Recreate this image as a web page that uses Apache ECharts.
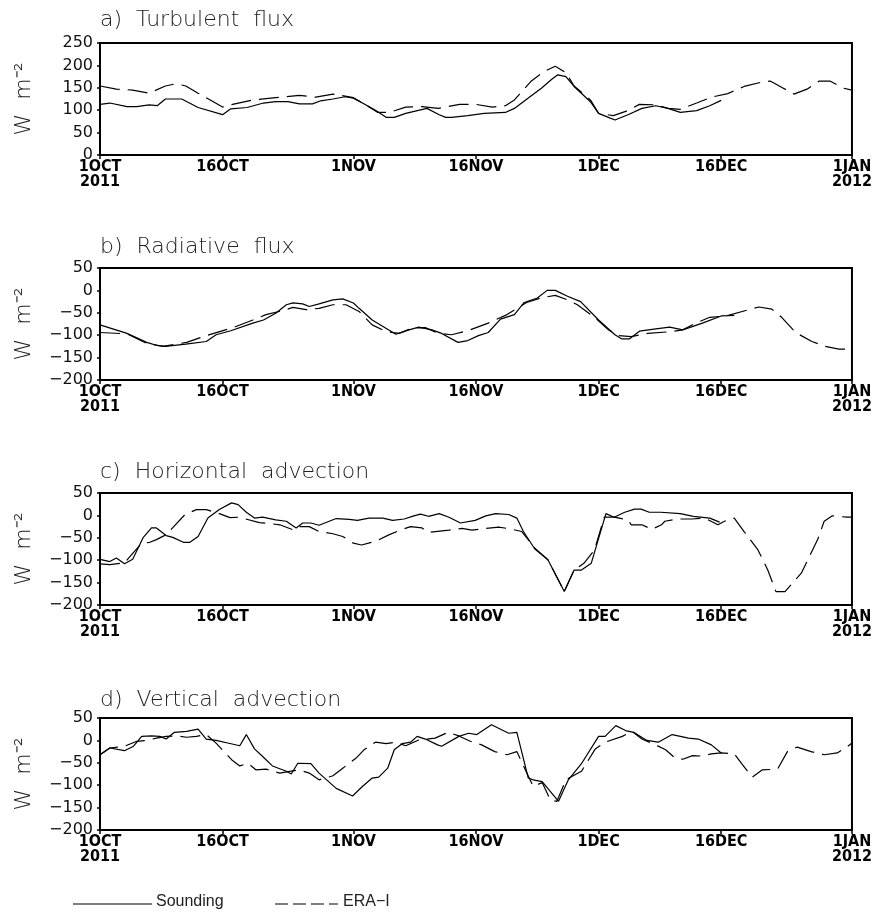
<!DOCTYPE html>
<html>
<head>
<meta charset="utf-8">
<title>Heat budget terms</title>
<script src="https://cdn.jsdelivr.net/npm/echarts@6.0.0/dist/echarts.min.js"></script>
<style>
  html, body { margin: 0; padding: 0; background: #fff; }
  #chart { width: 875px; height: 922px; }
</style>
</head>
<body>
<div id="chart"></div>
<script>
  // x = days since 1 Oct 2011
  var dayTicks = [0, 15, 31, 46, 61, 76, 92];
  var dayLabels = ['1OCT\n2011', '16OCT', '1NOV', '16NOV', '1DEC', '16DEC', '1JAN\n2012'];
  var panelTitles = ['a)  Turbulent  flux', 'b)  Radiative  flux', 'c)  Horizontal  advection', 'd)  Vertical  advection'];
  var yMin = [0, -200, -200, -200];
  var yMax = [250, 50, 50, 50];

  // a) turbulent flux
  var turbSndDay = [0, 1.2, 3.3, 4.5, 6, 7, 8, 10, 12, 15, 16, 18, 20, 21.5, 23, 24.4, 26, 27, 28.5, 30, 31, 32.5, 33.7, 35, 36, 37.4, 40, 41.5, 42.3, 43, 45, 47, 49.6, 50.7, 52.4, 54, 55.2, 56, 57, 58, 60, 61, 62.2, 63, 64.6, 66.3, 68, 69.5, 71, 73, 74.6, 76];
  var turbSndVal = [113, 116, 108, 108, 112, 110, 125, 125, 106, 90, 103, 106, 116, 119, 119, 114, 114, 121, 125, 130, 127, 112, 100, 84, 84, 93, 104, 90, 84, 84, 88, 93, 95, 104, 127, 149, 168, 179, 175, 153, 119, 93, 84, 78, 90, 104, 110, 104, 95, 99, 110, 122];
  var turbEraDay = [0, 2, 4, 6, 8, 9.3, 10.5, 12, 15, 16, 18.7, 21.5, 24.4, 26.4, 28.5, 31, 32.5, 34, 35.4, 37.4, 39.4, 41.4, 44, 46, 48, 49.6, 50.7, 52.7, 54.3, 55.7, 57, 58, 60, 61, 62.8, 64.4, 66, 68, 69.5, 71, 73, 74.8, 76.8, 78.8, 80.8, 82, 83.6, 84.9, 86.5, 88, 89.3, 91, 92];
  var turbEraVal = [154, 147, 145, 138, 154, 159, 154, 138, 107, 112, 123, 128, 133, 129, 136, 128, 112, 95, 95, 107, 108, 104, 113, 113, 107, 110, 123, 164, 186, 198, 184, 154, 123, 93, 88, 98, 113, 112, 104, 102, 116, 129, 137, 153, 162, 165, 149, 136, 147, 165, 165, 149, 145];

  // b) radiative flux
  var radSndDay = [0, 3.3, 5.7, 7, 8, 10.5, 13, 14.2, 16, 18.7, 20, 21.5, 22.8, 23.6, 24.8, 25.6, 26.8, 28.5, 29.7, 31, 31.7, 33.3, 36.2, 37.8, 39, 40.6, 41.8, 43.8, 45, 46.3, 47.5, 49, 50.7, 51.9, 53.5, 54.7, 55.7, 57.2, 58.8, 61, 63, 63.8, 64.8, 66, 68, 69.7, 71.3, 73.7, 76, 77.6];
  var radSndVal = [-77, -96, -116, -123, -125, -120, -114, -99, -90, -73, -66, -51, -32, -28, -30, -36, -30, -21, -19, -28, -40, -66, -98, -88, -82, -88, -96, -116, -112, -101, -94, -64, -54, -27, -17, 0, 0, -13, -25, -66, -99, -108, -108, -91, -86, -82, -88, -73, -57, -56];
  var radEraDay = [0, 3.3, 5.7, 7.7, 10.6, 13, 16.3, 18.7, 20.3, 22.4, 23.6, 25.2, 26.8, 28.5, 30.1, 31.7, 33.3, 35, 36.6, 38.2, 39.8, 41.4, 43, 45, 47.5, 49.8, 52.2, 53.9, 55.7, 57.2, 58.4, 60.5, 62.2, 63.4, 65, 67, 69.9, 71.3, 72.9, 74.6, 76.6, 79.4, 80.6, 82.2, 83.4, 85.1, 87.1, 88.7, 90.4, 92];
  var radEraVal = [-94, -97, -118, -125, -116, -101, -83, -66, -54, -45, -38, -43, -40, -32, -32, -47, -77, -92, -96, -84, -83, -96, -99, -90, -73, -54, -27, -17, -11, -21, -32, -60, -88, -101, -103, -96, -92, -88, -73, -60, -57, -43, -37, -42, -60, -94, -114, -125, -131, -131];

  // c) horizontal advection
  var hadvSndDay = [0, 1.2, 2, 3, 4, 5.3, 6.3, 6.9, 8.1, 8.9, 10.2, 11, 12, 13.2, 14.6, 16.1, 16.9, 17.9, 18.9, 19.9, 21.5, 22.8, 24, 24.8, 25.8, 26.8, 28.9, 30.5, 31.5, 32.9, 34.6, 35.8, 37.2, 38.4, 39.2, 40.2, 41.5, 42.7, 44.1, 45.9, 47.2, 48.4, 50, 51, 51.8, 53.2, 54.8, 56.8, 58, 58.9, 60.1, 61.9, 62.9, 64.2, 65.4, 66.2, 67.2, 68.6, 71, 72.6, 74.6, 75.8];
  var hadvSndVal = [-98, -103, -95, -108, -98, -49, -28, -28, -45, -49, -60, -60, -47, -6, 13, 28, 24, 7, -6, -4, -10, -13, -28, -17, -17, -22, -7, -9, -11, -6, -6, -11, -8, -1, 3, -2, 4, -4, -17, -11, -1, 4, 2, -6, -36, -75, -99, -170, -122, -122, -107, 4, -4, 7, 14, 14, 7, 7, 4, -2, -6, -15];
  var hadvEraDay = [0, 1.2, 3, 4, 5.1, 6.1, 6.9, 8.1, 10.4, 11.8, 13, 14.6, 15.9, 17, 19.5, 20.7, 22, 23.6, 24.4, 25.6, 26.8, 28.5, 29.7, 31, 32, 33.7, 35.4, 37, 38, 39.4, 40.2, 42.7, 44.3, 45.5, 47.2, 48.8, 50.4, 51.6, 53.2, 54.8, 56.8, 58, 59.2, 60.5, 61.7, 62.9, 64.6, 65, 66.3, 67.5, 68.7, 69.1, 70.7, 72.4, 74, 75.6, 76.4, 77.6, 78.8, 80.5, 81.7, 82.7, 83.8, 85.8, 87.8, 88.6, 89.6, 91.4, 92];
  var hadvEraVal = [-108, -110, -106, -85, -62, -60, -54, -43, 2, 13, 13, 4, -5, -4, -16, -18, -21, -32, -25, -25, -36, -41, -47, -62, -66, -58, -43, -31, -25, -28, -38, -33, -29, -33, -29, -26, -31, -36, -73, -99, -170, -122, -107, -77, -4, -4, -10, -21, -21, -31, -21, -13, -8, -8, -6, -21, -13, -6, -36, -77, -122, -170, -170, -129, -54, -13, -1, -4, -4];

  // d) vertical advection
  var vadvSndDay = [0, 1.2, 3, 4.1, 5.1, 6.3, 7.3, 8.1, 9.1, 10.6, 12, 13, 14.2, 15.9, 17.1, 17.9, 18.9, 19.9, 21.1, 22.8, 23.4, 24.2, 25.8, 26.8, 28.9, 30.9, 32.1, 33.3, 34.1, 35.2, 36, 37, 38, 38.8, 39.8, 41.3, 41.8, 43.9, 45.1, 46.1, 47.9, 50, 51, 52.4, 53, 54.1, 56.1, 57.3, 58.9, 61, 61.8, 63.1, 64.3, 65.3, 66.9, 68.3, 70, 72, 73.2, 74.8, 76];
  var vadvSndVal = [-32, -17, -23, -13, 9, 10, 9, 3, 18, 20, 25, 3, 0, -7, -12, 13, -19, -36, -57, -69, -75, -51, -52, -73, -107, -124, -103, -84, -82, -62, -21, -7, -4, 9, 3, -10, -13, 9, 16, 13, 35, 16, 18, -84, -88, -92, -136, -88, -52, 9, 9, 33, 22, 18, 0, -4, 13, 5, 3, -10, -28];
  var vadvEraDay = [0, 1.2, 3, 4.5, 5.7, 6.9, 8.1, 9.3, 10.6, 11.8, 13, 14.2, 16.1, 17.1, 18.1, 19.1, 20.3, 22, 23.2, 24.4, 25.6, 26.8, 28.5, 29.7, 31.3, 32.3, 33.7, 35, 36.2, 37.4, 39, 41, 42.6, 43.9, 45.3, 46.7, 48.3, 49.8, 51, 53, 54.1, 55.1, 55.9, 57, 58.9, 60.6, 61.8, 63.9, 65.1, 66.3, 68, 69.2, 70.4, 71.3, 72.5, 73.7, 74.8, 76, 77.6, 78.6, 79.8, 81, 82.9, 84.1, 85.3, 87, 88.6, 90.2, 91.5, 92];
  var vadvEraVal = [-32, -17, -13, -2, 0, 5, 9, 10, 7, 9, 13, -6, -43, -57, -51, -66, -64, -73, -69, -66, -73, -88, -79, -62, -40, -21, -4, -7, -4, -12, 1, 5, 18, 10, -2, -10, -25, -32, -25, -103, -94, -133, -136, -88, -69, -19, -4, 9, 20, 3, -10, -21, -40, -42, -34, -35, -30, -28, -30, -54, -82, -66, -64, -25, -15, -25, -32, -28, -13, -6];

  var sndDays = [turbSndDay, radSndDay, hadvSndDay, vadvSndDay];
  var sndVals = [turbSndVal, radSndVal, hadvSndVal, vadvSndVal];
  var eraDays = [turbEraDay, radEraDay, hadvEraDay, vadvEraDay];
  var eraVals = [turbEraVal, radEraVal, hadvEraVal, vadvEraVal];

  var gridTop = [43, 268, 493, 718];
  var titleTop = [9, 236, 461, 689];

  function pairs(days, vals) {
    var out = [];
    for (var i = 0; i < days.length; i++) {
      out.push([days[i], vals[i]]);
    }
    return out;
  }

  var grids = [], xAxes = [], yAxes = [], series = [], titles = [];
  for (var p = 0; p < 4; p++) {
    grids.push({
      left: 100, right: 21, top: gridTop[p], height: 112,
      show: true, borderColor: '#000', borderWidth: 2, backgroundColor: 'transparent'
    });
    xAxes.push({
      type: 'value', gridIndex: p, min: 0, max: 92,
      axisLine: { show: true, onZero: false, lineStyle: { color: '#000', width: 2 } },
      axisTick: { show: true, customValues: dayTicks, length: 4, lineStyle: { color: '#000', width: 1.5 } },
      splitLine: { show: false },
      axisLabel: {
        customValues: dayTicks,
        margin: 4,
        color: '#000',
        fontFamily: '"Liberation Sans Narrow", "DejaVu Sans Condensed", "Liberation Sans", sans-serif',
        fontWeight: 'bold',
        fontSize: 16,
        lineHeight: 15,
        formatter: function (v) {
          var k = dayTicks.indexOf(v);
          return k >= 0 ? dayLabels[k] : '';
        }
      }
    });
    yAxes.push({
      type: 'value', gridIndex: p, min: yMin[p], max: yMax[p], interval: 50,
      name: 'W  m\u207B\u00B2',
      nameLocation: 'middle', nameRotate: 90, nameGap: 65,
      nameTextStyle: { fontFamily: '"DejaVu Sans", sans-serif', fontWeight: 200, fontSize: 22, color: '#222' },
      axisLine: { show: true, onZero: false, lineStyle: { color: '#000', width: 2 } },
      axisTick: { show: true, length: 3, lineStyle: { color: '#000', width: 1.5 } },
      splitLine: { show: false },
      axisLabel: {
        margin: 7, color: '#111', fontSize: 16,
        fontFamily: '"DejaVu Sans", sans-serif',
        formatter: function (v) { return String(v).replace('-', '\u2212'); }
      }
    });
    titles.push({
      text: panelTitles[p], left: 100, top: titleTop[p], padding: 0,
      textStyle: { fontFamily: '"DejaVu Sans", sans-serif', fontWeight: 200, fontSize: 22, color: '#222' }
    });
    series.push({
      name: 'Sounding', type: 'line', xAxisIndex: p, yAxisIndex: p,
      data: pairs(sndDays[p], sndVals[p]),
      showSymbol: false, symbol: 'none', silent: true,
      lineStyle: { color: '#000', width: 1.2, type: 'solid' }
    });
    series.push({
      name: 'ERA-I', type: 'line', xAxisIndex: p, yAxisIndex: p,
      data: pairs(eraDays[p], eraVals[p]),
      showSymbol: false, symbol: 'none', silent: true,
      lineStyle: { color: '#000', width: 1.2, type: [20, 8] }
    });
  }

  var chart = echarts.init(document.getElementById('chart'), null, { renderer: 'canvas' });
  chart.setOption({
    animation: false,
    backgroundColor: '#fff',
    title: titles,
    grid: grids,
    xAxis: xAxes,
    yAxis: yAxes,
    series: series,
    // legend drawn by hand at the bottom
    graphic: [
      { type: 'line', shape: { x1: 73, y1: 904, x2: 152, y2: 904 }, style: { stroke: '#000', lineWidth: 1.2 } },
      { type: 'text', left: 156, top: 894, style: { text: 'Sounding', fontFamily: '"Liberation Sans", sans-serif', fontSize: 16, fill: '#222' } },
      { type: 'line', shape: { x1: 275, y1: 904, x2: 338, y2: 904 }, style: { stroke: '#000', lineWidth: 1.2, lineDash: [13, 5] } },
      { type: 'text', left: 343, top: 894, style: { text: 'ERA\u2212I', fontFamily: '"Liberation Sans", sans-serif', fontSize: 16, fill: '#222' } }
    ]
  });
</script>
</body>
</html>
